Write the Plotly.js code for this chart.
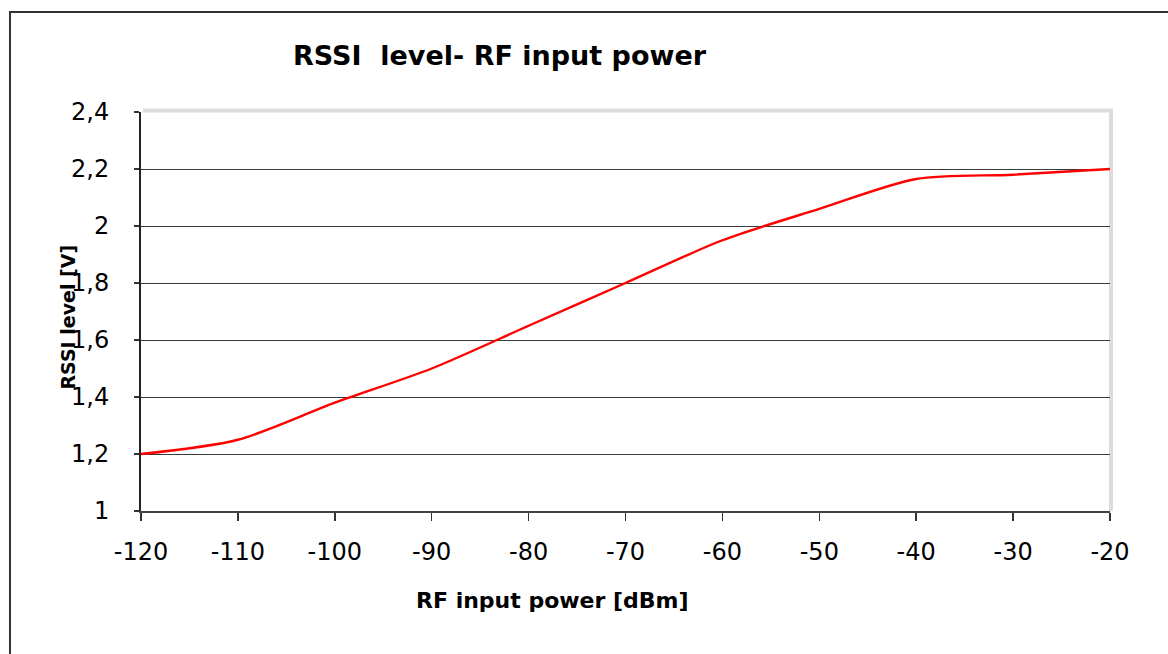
<!DOCTYPE html>
<html>
<head>
<meta charset="utf-8">
<script src="https://cdn.plot.ly/plotly-3.0.1.min.js"></script>
<style>
  html, body { margin: 0; padding: 0; background: #ffffff; }
  #chart { width: 1168px; height: 654px; }
</style>
</head>
<body>
<div id="chart"></div>
<script>
// Data
const rfPower = [-120, -110, -100, -90, -80, -70, -60, -50, -40, -30, -20];
const rssiLevel = [1.2, 1.25, 1.38, 1.5, 1.65, 1.8, 1.95, 2.06, 2.165, 2.18, 2.2];
const xTicks = [-120, -110, -100, -90, -80, -70, -60, -50, -40, -30, -20];
const xTickLabels = ['-120', '-110', '-100', '-90', '-80', '-70', '-60', '-50', '-40', '-30', '-20'];
const yTicks = [1, 1.2, 1.4, 1.6, 1.8, 2, 2.2, 2.4];
const yTickLabels = ['1', '1,2', '1,4', '1,6', '1,8', '2', '2,2', '2,4'];

const chartTitle = 'RSSI  level- RF input power';
const xTitle = 'RF input power [dBm]';
const yTitle = 'RSSI level [V]';

const tickFont = { family: 'DejaVu Sans, Verdana, sans-serif', size: 24, color: '#000000' };
const boldFont = 'DejaVu Sans, Verdana, sans-serif';

const trace = {
  x: rfPower,
  y: rssiLevel,
  type: 'scatter',
  mode: 'lines',
  line: { color: '#ff0000', width: 2.4, shape: 'spline', smoothing: 0.8 },
  hoverinfo: 'x+y',
  showlegend: false
};

const layout = {
  width: 1168,
  height: 654,
  margin: { l: 141, r: 58, t: 112, b: 143 },
  paper_bgcolor: '#ffffff',
  plot_bgcolor: '#ffffff',
  showlegend: false,
  title: {
    text: '<b>' + chartTitle + '</b>',
    font: { family: boldFont, size: 27, color: '#000000' },
    xref: 'paper', x: 0.37, xanchor: 'center',
    yref: 'container', y: 0.915, yanchor: 'middle'
  },
  xaxis: {
    range: [-120, -20],
    tickmode: 'array',
    tickvals: xTicks,
    ticktext: xTickLabels,
    ticks: 'outside',
    ticklen: 8,
    tickwidth: 1.5,
    tickcolor: '#333333',
    ticklabelstandoff: 10,
    tickfont: tickFont,
    showgrid: false,
    zeroline: false,
    showline: true,
    linecolor: '#444444',
    linewidth: 2
  },
  yaxis: {
    range: [1, 2.4],
    tickmode: 'array',
    tickvals: yTicks,
    ticktext: yTickLabels,
    ticks: 'outside',
    ticklen: 5,
    tickwidth: 1.5,
    tickcolor: '#333333',
    ticklabelstandoff: 20,
    tickfont: tickFont,
    showgrid: true,
    gridcolor: '#3a3a3a',
    gridwidth: 1,
    zeroline: false,
    showline: true,
    linecolor: '#222222',
    linewidth: 2
  },
  annotations: [
    {
      text: '<b>' + xTitle + '</b>',
      xref: 'paper', yref: 'paper',
      x: 0.425, y: -0.225,
      xanchor: 'center', yanchor: 'middle',
      showarrow: false,
      font: { family: boldFont, size: 22, color: '#000000' }
    },
    {
      text: '<b>' + yTitle + '</b>',
      xref: 'paper', yref: 'paper',
      x: -0.0755, y: 0.487,
      xanchor: 'center', yanchor: 'middle',
      textangle: -90,
      showarrow: false,
      font: { family: boldFont, size: 19, color: '#000000' }
    }
  ],
  shapes: [
    // outer chart-area border (left and top edges visible)
    {
      type: 'path', xref: 'paper', yref: 'paper',
      path: 'M -0.1352 -0.36 L -0.1352 1.2506 L 1.07 1.2506',
      line: { color: '#333333', width: 2 },
      layer: 'above'
    },
    // plot-area frame: top edge (covers top gridline)
    {
      type: 'line', xref: 'paper', yref: 'paper',
      x0: 0.002, x1: 1.003, y0: 1.004, y1: 1.004,
      line: { color: '#dcdcdc', width: 4 },
      layer: 'above'
    },
    // plot-area frame: right edge
    {
      type: 'line', xref: 'paper', yref: 'paper',
      x0: 1.001, x1: 1.001, y0: 0, y1: 1.006,
      line: { color: '#dcdcdc', width: 4 },
      layer: 'between'
    }
  ]
};

Plotly.newPlot('chart', [trace], layout, { displayModeBar: false, staticPlot: true });
</script>
</body>
</html>
